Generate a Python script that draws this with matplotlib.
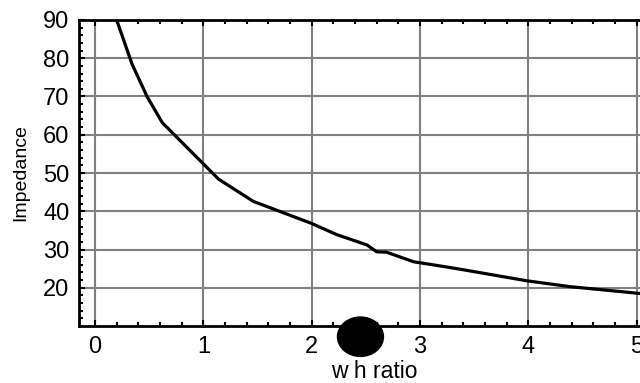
import matplotlib
matplotlib.use("Agg")
import matplotlib.pyplot as plt
from matplotlib.patches import Ellipse
from matplotlib.ticker import MultipleLocator

plt.rcParams['font.family'] = ['Liberation Sans', 'DejaVu Sans']

wh_ratio = [0.20, 0.34, 0.48, 0.62, 1.14, 1.46, 2.00, 2.23, 2.51, 2.60, 2.69, 2.94, 3.23, 3.40, 3.99, 4.38, 5.03]
impedance = [90, 78.6, 70, 63.2, 48.4, 42.6, 36.8, 33.9, 31.2, 29.4, 29.3, 26.8, 25.5, 24.7, 21.8, 20.3, 18.5]
x_ticks = [0, 1, 2, 3, 4, 5]
y_ticks = [20, 30, 40, 50, 60, 70, 80, 90]
blob_center = (2.45, 7.2)
blob_size = (0.424, 10.3)

fig = plt.figure(figsize=(6.4, 3.83), dpi=100)
ax = fig.add_axes([0.1234, 0.1488, 0.8766, 0.7990])

ax.plot(wh_ratio, impedance, color='black', lw=2.3, solid_joinstyle='round', zorder=3)
ax.add_patch(Ellipse(blob_center, blob_size[0], blob_size[1], color='black', clip_on=False, zorder=5))

ax.set_xlim(-0.148, 5.03)
ax.set_ylim(10, 90)
ax.set_xticks(x_ticks)
ax.set_yticks(y_ticks)
ax.xaxis.set_minor_locator(MultipleLocator(0.2))
ax.yaxis.set_minor_locator(MultipleLocator(2))
ax.grid(True, which='major', color='#808080', lw=1.5, zorder=1)
ax.set_axisbelow(True)

for s in ['left', 'bottom', 'top']:
    ax.spines[s].set_linewidth(2)
    ax.spines[s].set_color('black')
ax.spines['right'].set_visible(False)

ax.tick_params(which='both', direction='in', top=True, right=False, color='black', width=1.5)
ax.tick_params(which='major', length=4, labelsize=17, pad=7)
ax.tick_params(which='minor', length=3)

ax.set_xlabel('w h ratio', fontsize=16.5)
ax.xaxis.set_label_coords(0.526, -0.112)
ax.set_ylabel('Impedance', fontsize=14, labelpad=10)

fig.savefig('out.png', dpi=100)
